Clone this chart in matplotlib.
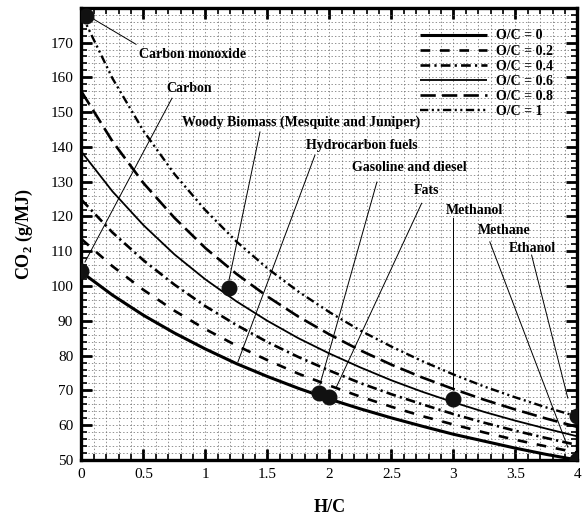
import matplotlib
matplotlib.use("Agg")
import matplotlib.pyplot as plt
from matplotlib.ticker import MultipleLocator, FixedLocator

plt.rcParams['font.family'] = ['Liberation Serif', 'DejaVu Serif']
plt.rcParams['lines.scale_dashes'] = False
plt.rcParams['mathtext.fontset'] = 'custom'
plt.rcParams['mathtext.rm'] = 'Liberation Serif'
plt.rcParams['mathtext.bf'] = 'Liberation Serif:bold'

# ---- data ----
hc = [0, 0.25, 0.5, 0.75, 1.0, 1.25, 1.5, 1.75, 2.0, 2.25, 2.5, 2.75, 3.0, 3.25, 3.5, 3.75, 4.0]
co2_oc0 = [104.0, 97.4, 91.6, 86.5, 81.9, 77.7, 74.0, 70.6, 67.5, 64.7, 62.1, 59.7, 57.4, 55.4, 53.4, 51.6, 50.0]
co2_oc02 = [113.5, 105.7, 98.9, 92.9, 87.6, 82.9, 78.7, 74.8, 71.4, 68.2, 65.3, 62.6, 60.2, 57.9, 55.8, 53.9, 52.1]
co2_oc04 = [124.8, 115.4, 107.4, 100.4, 94.2, 88.8, 83.9, 79.6, 75.7, 72.1, 68.9, 66.0, 63.2, 60.7, 58.4, 56.3, 54.3]
co2_oc06 = [138.6, 127.2, 117.5, 109.1, 101.9, 95.6, 90.0, 85.0, 80.6, 76.6, 72.9, 69.6, 66.6, 63.8, 61.3, 59.0, 56.8]
co2_oc08 = [155.9, 141.6, 129.6, 119.6, 110.9, 103.5, 97.0, 91.2, 86.1, 81.5, 77.4, 73.7, 70.4, 67.3, 64.5, 61.9, 59.5]
co2_oc1 = [178.1, 159.7, 144.6, 132.2, 121.8, 112.8, 105.1, 98.4, 92.5, 87.2, 82.6, 78.4, 74.6, 71.1, 68.0, 65.1, 62.5]
series_labels = ['O/C = 0', 'O/C = 0.2', 'O/C = 0.4', 'O/C = 0.6', 'O/C = 0.8', 'O/C = 1']

# fuel points
fuel_x = [0.04, 0.0, 1.19, 1.92, 2.0, 3.0, 4.0, 4.0]
fuel_y = [177.7, 104.2, 99.3, 69.2, 68.2, 67.6, 62.7, 50.0]

# annotation labels: text, text position, line start, line end
ann_text = ['Carbon monoxide', 'Carbon', 'Woody Biomass (Mesquite and Juniper)',
            'Hydrocarbon fuels', 'Gasoline and diesel', 'Fats', 'Methanol', 'Methane', 'Ethanol']
ann_tx = [0.895, 0.871, 1.770, 2.258, 2.645, 2.784, 3.173, 3.407, 3.637]
ann_ty = [166.7, 156.9, 147.1, 140.5, 134.2, 127.6, 121.8, 116.1, 110.9]
ann_x0 = [0.085, 0.73, 1.44, 1.883, 2.383, 2.744, 2.998, 3.294, 3.631]
ann_y0 = [177.0, 154.0, 144.3, 137.6, 129.9, 123.8, 119.5, 112.7, 108.9]
ann_x1 = [0.44, 0.028, 1.19, 1.262, 1.923, 2.058, 2.998, 3.923, 3.923]
ann_y1 = [169.5, 106.9, 101.7, 78.2, 71.6, 71.1, 71.0, 53.7, 67.8]

x_ticks = [0, 0.5, 1, 1.5, 2, 2.5, 3, 3.5, 4]
x_ticklabels = ['0', '0.5', '1', '1.5', '2', '2.5', '3', '3.5', '4']
y_ticks = [50, 60, 70, 80, 90, 100, 110, 120, 130, 140, 150, 160, 170]

# ---- figure ----
fig = plt.figure(figsize=(5.82, 5.18), dpi=100)
ax = fig.add_axes([0.140, 0.112, 0.852, 0.873])

styles = [
    dict(ls='-', lw=2.2),
    dict(ls=(0, (7, 7)), lw=1.9),
    dict(ls=(0, (7, 3, 1.6, 3)), lw=1.9),
    dict(ls='-', lw=1.3),
    dict(ls=(0, (11, 4.5)), lw=1.9),
    dict(ls=(0, (6, 2.5, 1.5, 2.5, 1.5, 2.5)), lw=1.7),
]
all_series = [co2_oc0, co2_oc02, co2_oc04, co2_oc06, co2_oc08, co2_oc1]
for ys, st, lab in zip(all_series, styles, series_labels):
    ax.plot(hc, ys, color='black', label=lab, zorder=3, solid_capstyle='butt',
            dash_capstyle='butt', **st)

for x0, y0, x1, y1 in zip(ann_x0, ann_y0, ann_x1, ann_y1):
    ax.plot([x0, x1], [y0, y1], color='black', lw=0.7, zorder=4)

ax.plot(fuel_x, fuel_y, 'o', color='#111111', ms=10.5, zorder=5, clip_on=True)

for t, tx, ty in zip(ann_text, ann_tx, ann_ty):
    ax.text(tx, ty, t, ha='center', va='center', fontsize=10, fontweight='bold', zorder=6)

ax.set_xlim(0, 4)
ax.set_ylim(50, 180)
ax.xaxis.set_major_locator(FixedLocator(x_ticks))
ax.set_xticklabels(x_ticklabels)
ax.yaxis.set_major_locator(FixedLocator(y_ticks + [180]))
ax.set_yticklabels([str(v) for v in y_ticks] + [''])
ax.xaxis.set_minor_locator(MultipleLocator(0.1))
ax.yaxis.set_minor_locator(MultipleLocator(2))

ax.tick_params(which='major', direction='in', length=8, width=2.0, labelsize=11, pad=6,
               top=True, right=True)
ax.tick_params(which='minor', direction='in', length=4, width=1.2, top=True, right=True)
for sp in ax.spines.values():
    sp.set_linewidth(2.4)

ax.grid(True, which='both', color='0.4', lw=0.5, ls=(0, (1, 1.5)), zorder=0)
ax.set_axisbelow(True)

ax.set_xlabel('H/C', fontsize=13, fontweight='bold', labelpad=13)
ax.set_ylabel(r'CO$_\mathbf{2}$ (g/MJ)', fontsize=13, fontweight='bold', labelpad=11)

leg = ax.legend(loc='upper left', bbox_to_anchor=(0.6825, 0.952), frameon=False,
                handlelength=4.8, handletextpad=0.7, labelspacing=0.15,
                borderpad=0, borderaxespad=0, prop={'weight': 'bold', 'size': 10})

fig.savefig('out.png', dpi=100)
